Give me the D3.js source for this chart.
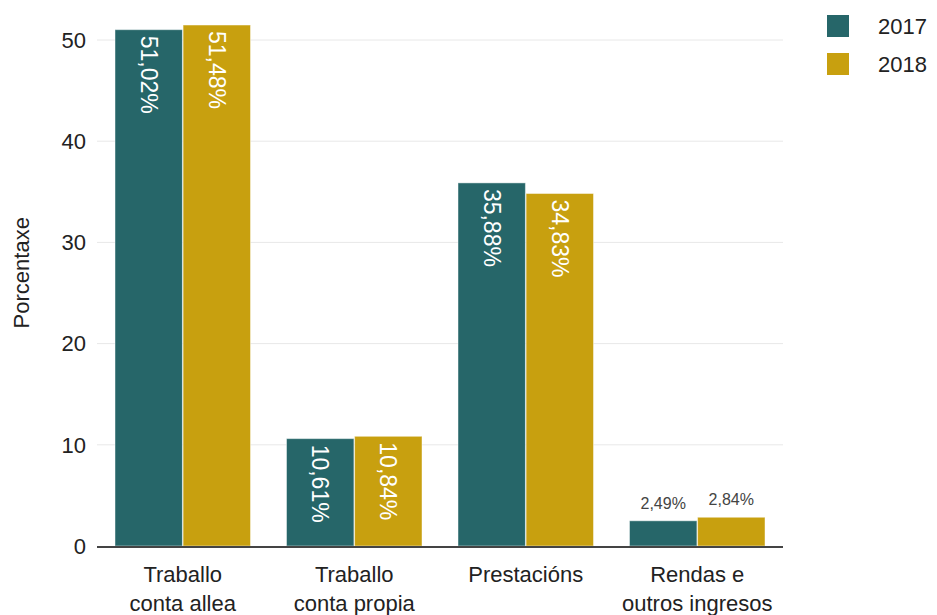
<!DOCTYPE html>
<html>
<head>
<meta charset="utf-8">
<script src="https://cdn.jsdelivr.net/npm/d3@7"></script>
<style>
  body { margin: 0; background: #fff; }
  svg text { font-family: "Liberation Sans", Arial, sans-serif; }
</style>
</head>
<body>
<div id="chart"></div>
<script>
const categories = [["Traballo", "conta allea"], ["Traballo", "conta propia"], ["Prestacións"], ["Rendas e", "outros ingresos"]]
const years = ["2017", "2018"]
const values2017 = [51.02, 10.61, 35.88, 2.49]
const values2018 = [51.48, 10.84, 34.83, 2.84]
const labels2017 = ["51,02%", "10,61%", "35,88%", "2,49%"]
const labels2018 = ["51,48%", "10,84%", "34,83%", "2,84%"]
const yTicks = [0, 10, 20, 30, 40, 50]
const colors = ["#266669", "#c8a00f"]

const width = 937, height = 615
const svg = d3.select("#chart").append("svg")
    .attr("width", width).attr("height", height)

const x0 = d3.scaleBand()
    .domain(d3.range(categories.length))
    .range([97, 783])
    .paddingInner(0.21)
    .paddingOuter(0.105)

const x1 = d3.scaleBand()
    .domain(years)
    .range([0, x0.bandwidth()])
    .paddingInner(0.01)

const y = d3.scaleLinear().domain([0, 50]).range([546, 40])

// grid
svg.append("g")
    .selectAll("line")
    .data(yTicks.slice(1))
    .join("line")
    .attr("x1", 97).attr("x2", 783)
    .attr("y1", d => y(d)).attr("y2", d => y(d))
    .attr("stroke", "#e8e8e8")

// y tick labels
svg.append("g")
    .selectAll("text")
    .data(yTicks)
    .join("text")
    .attr("x", 86)
    .attr("y", d => y(d))
    .attr("dy", "0.35em")
    .attr("text-anchor", "end")
    .attr("font-size", 22)
    .attr("fill", "#222")
    .text(d => d)

svg.append("text")
    .attr("transform", `translate(29,${y(27)}) rotate(-90)`)
    .attr("text-anchor", "middle")
    .attr("font-size", 22)
    .attr("fill", "#222")
    .text("Porcentaxe")

const rows = categories.map((c, i) => ({
  i,
  bars: [
    { year: years[0], value: values2017[i], label: labels2017[i], color: colors[0] },
    { year: years[1], value: values2018[i], label: labels2018[i], color: colors[1] }
  ]
}))

const groups = svg.append("g")
    .selectAll("g")
    .data(rows)
    .join("g")
    .attr("transform", d => `translate(${x0(d.i)},0)`)

groups.selectAll("rect")
    .data(d => d.bars)
    .join("rect")
    .attr("x", d => x1(d.year))
    .attr("y", d => y(d.value))
    .attr("width", x1.bandwidth())
    .attr("height", d => y(0) - y(d.value))
    .attr("fill", d => d.color)
    .attr("stroke", "#fff")
    .attr("stroke-opacity", 0.45)

// labels: rotated inside tall bars, flat above short ones
groups.selectAll("text.lbl")
    .data(d => d.bars)
    .join("text")
    .attr("class", "lbl")
    .each(function(d) {
      const t = d3.select(this)
      const cx = x1(d.year) + x1.bandwidth() / 2
      if (d.value > 6) {
        t.attr("transform", `translate(${cx},${y(d.value) + 6}) rotate(90)`)
          .attr("dy", "0.35em")
          .attr("font-size", 23)
          .attr("fill", "#fff")
      } else {
        t.attr("x", cx).attr("y", y(d.value) - 12)
          .attr("text-anchor", "middle")
          .attr("font-size", 16)
          .attr("fill", "#444")
      }
    })
    .text(d => d.label)

// baseline
svg.append("line")
    .attr("x1", 97).attr("x2", 783)
    .attr("y1", y(0) + 1).attr("y2", y(0) + 1)
    .attr("stroke", "#444").attr("stroke-width", 2)

// x labels
svg.append("g")
    .selectAll("text")
    .data(rows)
    .join("text")
    .attr("text-anchor", "middle")
    .attr("font-size", 22)
    .attr("fill", "#222")
    .each(function(d) {
      d3.select(this).selectAll("tspan")
        .data(categories[d.i])
        .join("tspan")
        .attr("x", x0(d.i) + x0.bandwidth() / 2)
        .attr("y", (s, k) => 582 + k * 29)
        .text(s => s)
    })

// legend
const legend = svg.append("g")
    .selectAll("g")
    .data(years)
    .join("g")
    .attr("transform", (d, i) => `translate(827,${15 + i * 38})`)
legend.append("rect")
    .attr("width", 22).attr("height", 22)
    .attr("fill", (d, i) => colors[i])
legend.append("text")
    .attr("x", 51).attr("y", 11).attr("dy", "0.35em")
    .attr("font-size", 22)
    .attr("fill", "#222")
    .text(d => d)
</script>
</body>
</html>
